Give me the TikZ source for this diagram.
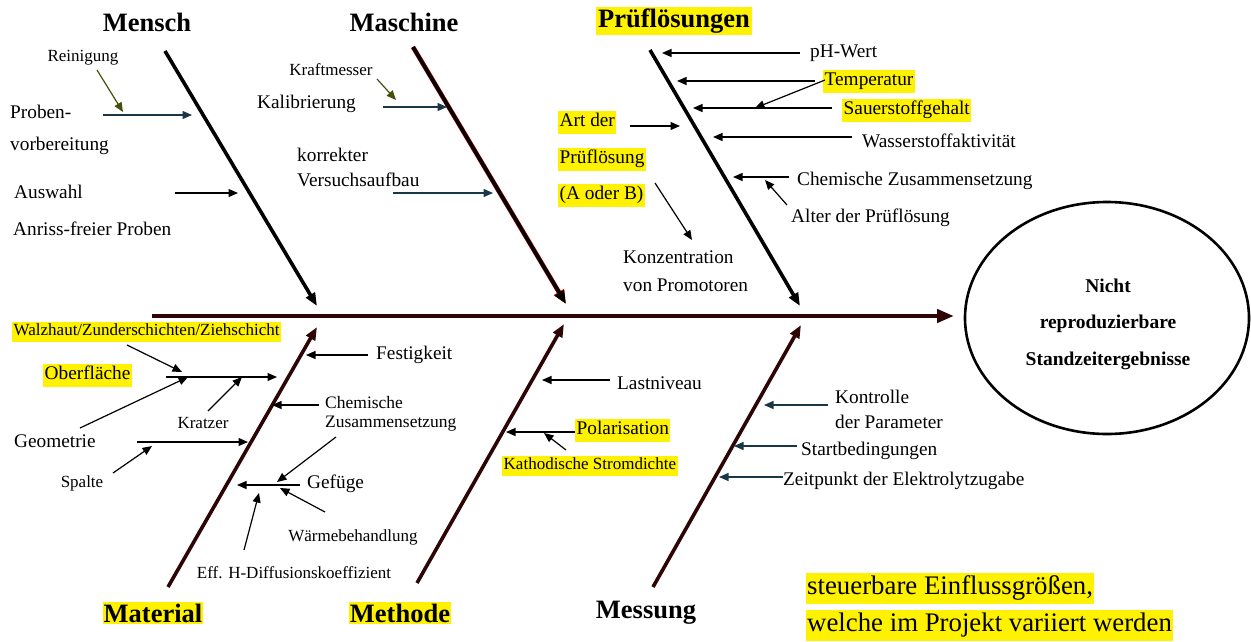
\documentclass[tikz,border=0pt]{standalone}
\usepackage{fontspec}
\setmainfont{Liberation Serif}
\usetikzlibrary{arrows.meta,shapes.geometric}
\definecolor{teal1}{RGB}{25,55,70}
\definecolor{olive1}{RGB}{70,80,10}
\definecolor{maroon1}{RGB}{45,5,5}
\begin{document}
\begin{tikzpicture}[x=1pt,y=-1pt,
  big/.style={inner sep=0pt,font=\fontsize{26.5}{30}\selectfont\bfseries},
  mid/.style={inner sep=0pt,font=\fontsize{19.3}{22}\selectfont},
  mids/.style={inner sep=0pt,font=\fontsize{17.5}{21}\selectfont},
  sml/.style={inner sep=0pt,font=\fontsize{17}{19}\selectfont},
  hlbox/.style={fill=yellow, inner xsep=1.5pt, inner ysep=0.5pt},
  arr/.style={-{Triangle[length=9.5pt,width=8pt]}, line width=1.2pt},
  bone/.style={-{Triangle[length=13pt,width=10pt]}, line width=3.6pt},
]
\useasboundingbox[fill=white] (0,0) rectangle (1251,641);

% ---------- spine and effect ----------
\node[ellipse, draw, line width=2.6pt, minimum width=284pt, minimum height=232pt, inner sep=0pt] (effect) at (1107,318) {};
\node[inner sep=0pt, font=\fontsize{19.5}{36.5}\selectfont\bfseries, align=center] (efftxt) at (1108,324)
  {Nicht\\reproduzierbare\\Standzeitergebnisse};
\coordinate (spineS) at (152,316);
\coordinate (spineE) at (954,316);
\draw[-{Triangle[length=17pt,width=13pt]}, line width=4.6pt, maroon1] (spineS) -- (spineE);

% ---------- bones ----------
\coordinate (menschA) at (165,51);   \coordinate (menschB) at (317,306);
\coordinate (maschA) at (413,47);    \coordinate (maschB) at (566,304);
\coordinate (pruefA) at (650,50);    \coordinate (pruefB) at (800,306);
\coordinate (matA) at (168,587);     \coordinate (matB) at (317,327);
\coordinate (methA) at (417,583);    \coordinate (methB) at (564,324);
\coordinate (messA) at (653,587);    \coordinate (messB) at (801,325);
\draw[bone] (menschA) -- (menschB);
\draw[bone, red!80!black, line width=4.6pt, -{Triangle[length=14pt,width=11pt]}] (maschA) -- (maschB);
\draw[bone] (maschA) -- (maschB);
\draw[bone] (pruefA) -- (pruefB);
\draw[bone, maroon1] (matA) -- (matB);
\draw[bone, maroon1] (methA) -- (methB);
\draw[bone, maroon1] (messA) -- (messB);

% ---------- category labels ----------
\node[big] (mensch) at (147,22) {Mensch};
\node[big] (maschine) at (404,22) {Maschine};
\node[big, hlbox, inner xsep=2pt, inner ysep=2pt] (pruef) at (674,21) {Prüflösungen};
\node[big, hlbox, inner xsep=1pt, inner ysep=2pt] (material) at (153,613) {Material};
\node[big, hlbox, inner xsep=1pt, inner ysep=2pt] (methode) at (400,613) {Methode};
\node[big] (messung) at (646,613) {Messung};

% ---------- Mensch ----------
\node[sml] (reinig) at (83,58) {Reinigung};
\node[mid, anchor=west] (proben1) at (10,112) {Proben-};
\node[mid, anchor=west] (proben2) at (10,146) {vorbereitung};
\node[mid, anchor=west] (ausw1) at (14,192) {Auswahl};
\node[mid, anchor=west] (ausw2) at (13,229) {Anriss-freier Proben};
\coordinate (r1) at (97,70);   \coordinate (r2) at (123,112);
\coordinate (p1) at (103,115); \coordinate (p2) at (192,115);
\coordinate (a1) at (175,193); \coordinate (a2) at (238,193);
\draw[arr, olive1] (r1) -- (r2);
\draw[arr, teal1] (p1) -- (p2);
\draw[arr] (a1) -- (a2);

% ---------- Maschine ----------
\node[sml] (kraft) at (331,70) {Kraftmesser};
\node[mid, anchor=west] (kalib) at (257,104) {Kalibrierung};
\node[mid, anchor=west] (korr1) at (297,155) {korrekter};
\node[mid, anchor=west] (korr2) at (297,180) {Versuchsaufbau};
\coordinate (k1) at (377,79);  \coordinate (k2) at (396,100);
\coordinate (kb1) at (383,107); \coordinate (kb2) at (447,107);
\coordinate (v1) at (393,193); \coordinate (v2) at (493,193);
\draw[arr, olive1] (k1) -- (k2);
\draw[arr, teal1] (kb1) -- (kb2);
\draw[arr, teal1] (v1) -- (v2);

% ---------- Prüflösungen ----------
\node[mid, anchor=west] (ph) at (810,53) {pH-Wert};
\node[mid, hlbox, anchor=west] (temp) at (823,81) {\strut Temperatur\hspace{4pt}};
\node[mid, hlbox, anchor=west] (sauer) at (842,110) {\strut Sauerstoffgehalt\hspace{2pt}};
\node[mid, anchor=west] (wasser) at (862,141) {Wasserstoffaktivität};
\node[mid, anchor=west] (chem) at (797,181) {Chemische Zusammensetzung};
\node[mid, anchor=west] (alter) at (791,218) {Alter der Prüflösung};
\node[mid, hlbox, anchor=west] (art1) at (558,122) {\strut Art der\hspace{1pt}};
\node[mid, hlbox, anchor=west] (art2) at (558,159) {\strut Prüflösung\hspace{7pt}};
\node[mid, hlbox, anchor=west] (art3) at (558,195) {\strut (A oder B)};
\node[mid, anchor=west] (konz1) at (623,257) {Konzentration};
\node[mid, anchor=west] (konz2) at (623,285) {von Promotoren};
\coordinate (ph1) at (800,53);  \coordinate (ph2) at (662,53);
\coordinate (t1) at (815,81);   \coordinate (t2) at (677,81);
\coordinate (td1) at (825,80);  \coordinate (td2) at (755,108);
\coordinate (s1) at (832,108);  \coordinate (s2) at (693,108);
\coordinate (w1) at (852,137);  \coordinate (w2) at (713,137);
\coordinate (c1) at (789,177);  \coordinate (c2) at (733,177);
\coordinate (al1) at (787,205); \coordinate (al2) at (765,180);
\coordinate (ar1) at (630,126); \coordinate (ar2) at (680,126);
\coordinate (ab1) at (655,183); \coordinate (ab2) at (692,240);
\draw[arr] (ph1) -- (ph2);
\draw[arr] (t1) -- (t2);
\draw[arr] (td1) -- (td2);
\draw[arr] (s1) -- (s2);
\draw[arr] (w1) -- (w2);
\draw[arr] (c1) -- (c2);
\draw[arr] (al1) -- (al2);
\draw[arr] (ar1) -- (ar2);
\draw[arr] (ab1) -- (ab2);

% ---------- Material ----------
\node[sml, hlbox, anchor=west] (walz) at (12,332) {\strut Walzhaut/Zunderschichten/Ziehschicht};
\node[mid, hlbox, anchor=west] (ober) at (43,375) {\strut Oberfläche\hspace{7pt}};
\node[mid, anchor=west] (geo) at (14,441) {Geometrie};
\node[sml] (kratz) at (203,423) {Kratzer};
\node[sml] (spalte) at (82,483) {Spalte};
\node[mid, anchor=west] (fest) at (376,355) {Festigkeit};
\node[mids, anchor=west] (mchem1) at (325,403) {Chemische};
\node[mids, anchor=west] (mchem2) at (325,424) {Zusammensetzung};
\node[mid, anchor=west] (gef) at (307,484) {Gefüge};
\node[sml] (waerme) at (353,537) {Wärmebehandlung};
\node[sml] (eff) at (294,573) {Eff. H-Diffusionskoeffizient};
\coordinate (wz1) at (127,345); \coordinate (wz2) at (182,372);
\coordinate (o1) at (166,377);  \coordinate (o2) at (277,377);
\coordinate (g1) at (80,428);   \coordinate (g2) at (188,377);
\coordinate (kz1) at (208,411); \coordinate (kz2) at (242,377);
\coordinate (ge1) at (137,442); \coordinate (ge2) at (248,442);
\coordinate (sp1) at (113,473); \coordinate (sp2) at (152,446);
\coordinate (f1) at (368,355);  \coordinate (f2) at (306,355);
\coordinate (mc1) at (319,405); \coordinate (mc2) at (272,405);
\coordinate (mz1) at (336,437); \coordinate (mz2) at (277,482);
\coordinate (gf1) at (300,485); \coordinate (gf2) at (237,485);
\coordinate (wb1) at (325,512); \coordinate (wb2) at (280,488);
\coordinate (ef1) at (244,550); \coordinate (ef2) at (259,493);
\draw[arr] (wz1) -- (wz2);
\draw[arr] (o1) -- (o2);
\draw[arr] (g1) -- (g2);
\draw[arr] (kz1) -- (kz2);
\draw[arr] (ge1) -- (ge2);
\draw[arr] (sp1) -- (sp2);
\draw[arr] (f1) -- (f2);
\draw[arr] (mc1) -- (mc2);
\draw[arr] (mz1) -- (mz2);
\draw[arr] (gf1) -- (gf2);
\draw[arr] (wb1) -- (wb2);
\draw[arr] (ef1) -- (ef2);

% ---------- Methode ----------
\node[mid, anchor=west] (last) at (617,383) {Lastniveau};
\node[mid, hlbox, anchor=west] (polar) at (575,430) {\strut Polarisation\hspace{7pt}};
\node[sml, hlbox, anchor=west] (kath) at (502,466) {\strut Kathodische Stromdichte};
\coordinate (l1) at (610,380);  \coordinate (l2) at (542,380);
\coordinate (po1) at (575,432); \coordinate (po2) at (506,432);
\coordinate (ka1) at (566,450); \coordinate (ka2) at (544,433);
\draw[arr] (l1) -- (l2);
\draw[arr] (po1) -- (po2);
\draw[arr] (ka1) -- (ka2);

% ---------- Messung ----------
\node[mid, anchor=west] (kon1) at (835,397) {Kontrolle};
\node[mid, anchor=west] (kon2) at (835,422) {der Parameter};
\node[mid, anchor=west] (start) at (801,451) {Startbedingungen};
\node[mid, anchor=west] (zeit) at (783,481) {Zeitpunkt der Elektrolytzugabe};
\coordinate (ko1) at (828,405); \coordinate (ko2) at (764,405);
\coordinate (st1) at (797,446); \coordinate (st2) at (734,446);
\coordinate (ze1) at (783,477); \coordinate (ze2) at (719,477);
\draw[arr, teal1] (ko1) -- (ko2);
\draw[arr, teal1] (st1) -- (st2);
\draw[arr, teal1] (ze1) -- (ze2);

% ---------- legend ----------
\node[hlbox, anchor=west, inner xsep=1pt, inner ysep=0pt, font=\fontsize{26.8}{31}\selectfont] (leg1) at (806,588) {\strut steuerbare Einflussgrößen,\hspace{8pt}};
\node[hlbox, anchor=west, inner xsep=1pt, inner ysep=0pt, font=\fontsize{26.8}{31}\selectfont] (leg2) at (806,625) {\strut welche im Projekt variiert werden\hspace{6pt}};
\end{tikzpicture}
\end{document}
